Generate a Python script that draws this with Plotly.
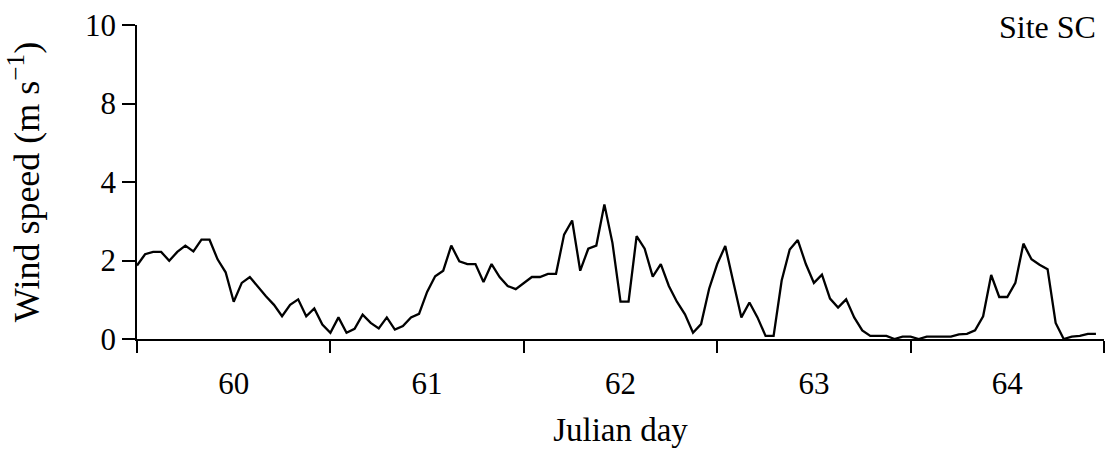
import plotly.graph_objects as go

# Hourly wind speed at site SC, Julian days 60-64 (m/s), first sample at 59.5
start_day = 59.5
samples_per_day = 24
wind_speed = [
    1.87, 2.16, 2.22, 2.22, 1.99, 2.22, 2.38, 2.23, 2.53, 2.53, 2.03, 1.70,
    0.95, 1.43, 1.58, 1.33, 1.09, 0.87, 0.58, 0.87, 1.01, 0.58, 0.78, 0.37,
    0.16, 0.55, 0.16, 0.26, 0.62, 0.41, 0.27, 0.55, 0.24, 0.33, 0.55, 0.64,
    1.20, 1.60, 1.74, 2.38, 1.98, 1.91, 1.91, 1.45, 1.91, 1.58, 1.35, 1.27,
    1.43, 1.58, 1.58, 1.66, 1.66, 2.66, 3.02, 1.74, 2.30, 2.38, 3.43, 2.45,
    0.95, 0.95, 2.62, 2.30, 1.59, 1.91, 1.35, 0.95, 0.63, 0.16, 0.38, 1.28,
    1.91, 2.37, 1.45, 0.55, 0.93, 0.55, 0.08, 0.08, 1.49, 2.28, 2.52, 1.91,
    1.43, 1.64, 1.03, 0.80, 1.01, 0.55, 0.22, 0.08, 0.08, 0.08, 0.00, 0.06,
    0.06, 0.00, 0.06, 0.06, 0.06, 0.06, 0.12, 0.13, 0.22, 0.58, 1.63, 1.07,
    1.07, 1.43, 2.43, 2.03, 1.89, 1.78, 0.41, 0.00, 0.06, 0.08, 0.13, 0.13,
]
days = [start_day + i / samples_per_day for i in range(len(wind_speed))]

# Axis labelling
day_labels = [60, 61, 62, 63, 64]
day_bounds = [59.5, 60.5, 61.5, 62.5, 63.5, 64.5]
y_tickvals = [0, 2, 4, 6, 8]
y_ticktext = ["0", "2", "4", "8", "10"]

serif = "Liberation Serif, DejaVu Serif, serif"

fig = go.Figure()
fig.add_trace(go.Scatter(
    x=days, y=wind_speed, mode="lines",
    line=dict(color="black", width=2.3),
    showlegend=False, hoverinfo="skip",
))

fig.update_layout(
    width=1112, height=450,
    margin=dict(l=137, r=8, t=24, b=107),
    paper_bgcolor="white", plot_bgcolor="white",
    font=dict(family=serif, size=31, color="black"),
    xaxis=dict(
        range=[59.5, 64.5],
        tickvals=day_labels, ticktext=[str(d) for d in day_labels],
        ticks="outside", ticklen=0, ticklabelstandoff=16,
        minor=dict(tickvals=day_bounds, ticks="outside", ticklen=12,
                   tickwidth=1.5, tickcolor="black"),
        showline=True, linecolor="black", linewidth=2,
        showgrid=False, zeroline=False,
        title=dict(text="Julian day", font=dict(size=33), standoff=18),
    ),
    yaxis=dict(
        range=[0, 8],
        tickvals=y_tickvals, ticktext=y_ticktext,
        ticks="outside", ticklen=13, tickwidth=1.5, tickcolor="black",
        showline=True, linecolor="black", linewidth=1.5,
        showgrid=False, zeroline=False,
        title=dict(text="Wind speed (m s<sup>\u22121</sup>)",
                   font=dict(size=36), standoff=34),
    ),
    annotations=[dict(
        text="Site SC", xref="paper", yref="paper",
        x=1.0, y=1.0, xanchor="right", yanchor="middle",
        xshift=-6, yshift=-2, showarrow=False,
        font=dict(family=serif, size=32, color="black"),
    )],
)

fig.write_html("out.html")
